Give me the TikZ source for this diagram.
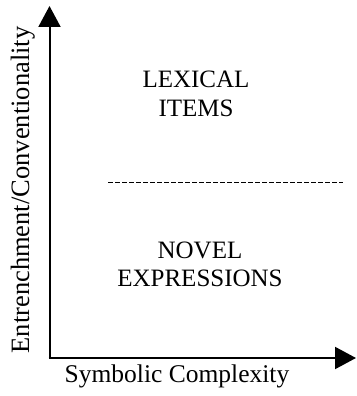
\documentclass[tikz,border=0pt]{standalone}
\usepackage{fontspec}
\setmainfont{Liberation Serif}
\usetikzlibrary{arrows.meta}
\begin{document}
\begin{tikzpicture}[x=1pt,y=1pt,
  axis/.style={line width=2pt,-{Triangle[length=21pt,width=22pt]}},
  divider/.style={line width=1.8pt,dash pattern=on 5pt off 2pt},
  region/.style={align=center,font=\fontsize{25}{29}\selectfont},
  axislabel/.style={font=\fontsize{25.5}{30}\selectfont,inner sep=0pt}]
  \useasboundingbox (0,0) rectangle (356,396);
  % axes
  \coordinate (origin) at (49.5,38);
  \coordinate (ytip) at (49.5,390);
  \coordinate (xtip) at (356,38);
  \draw[axis] ([yshift=-1pt]origin) -- (ytip);
  \draw[axis] ([xshift=-1pt]origin) -- (xtip);
  % dashed boundary between the two regions
  \coordinate (dashL) at (108,213.5);
  \coordinate (dashR) at (343,213.5);
  \draw[divider] (dashL) -- (dashR);
  % region labels
  \node[region] (lexical) at (196,302.5) {LEXICAL\\ITEMS};
  \node[region,font=\fontsize{25}{28}\selectfont] (novel) at (200,131.5) {NOVEL\\EXPRESSIONS};
  % axis labels
  \node[axislabel,anchor=base] (xlabel) at (177,13) {Symbolic Complexity};
  \node[axislabel,anchor=base,rotate=90,font=\fontsize{26.5}{30}\selectfont] (ylabel) at (29,206) {Entrenchment/Conventionality};
\end{tikzpicture}
\end{document}
